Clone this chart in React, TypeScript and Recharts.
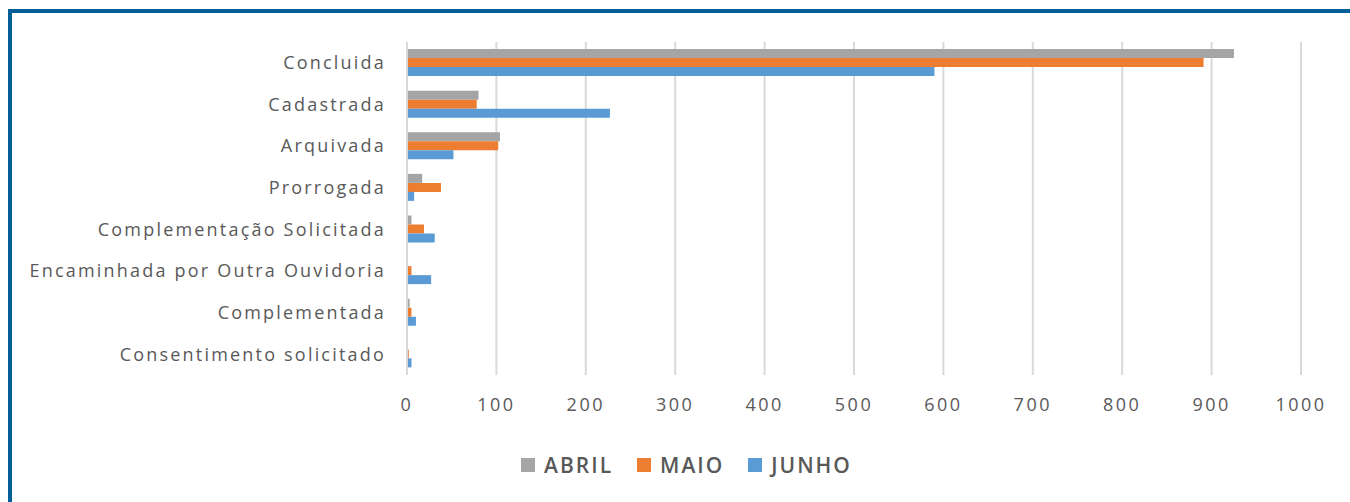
import React from 'react';
import { BarChart, Bar, XAxis, YAxis, CartesianGrid, Legend } from 'recharts';

// status categories, top to bottom
const categories = [
    'Concluida',
    'Cadastrada',
    'Arquivada',
    'Prorrogada',
    'Complementação Solicitada',
    'Encaminhada por Outra Ouvidoria',
    'Complementada',
    'Consentimento solicitado',
];

const abril = [925, 80, 104, 17, 5, 0, 3, 0];
const maio = [891, 78, 102, 38, 19, 5, 5, 2];
const junho = [590, 227, 52, 8, 31, 27, 10, 5];

const xTicks = [0, 100, 200, 300, 400, 500, 600, 700, 800, 900, 1000];

const series = [
    { key: 'abril', name: 'ABRIL', color: '#a5a5a5' },
    { key: 'maio', name: 'MAIO', color: '#ed7d31' },
    { key: 'junho', name: 'JUNHO', color: '#5b9bd5' },
];

const data = categories.map((name, i) => ({
    name,
    abril: abril[i],
    maio: maio[i],
    junho: junho[i],
}));

const FONT = '"Open Sans", "DejaVu Sans", sans-serif';

const LegendContent = () => (
    <div style={{ display: 'flex', justifyContent: 'center', alignItems: 'center', gap: 24, fontFamily: FONT, paddingLeft: 72 }}>
        {series.map(s => (
            <div key={s.key} style={{ display: 'flex', alignItems: 'center' }}>
                <span style={{ width: 14, height: 14, background: s.color, display: 'inline-block', marginRight: 9 }} />
                <span style={{ fontSize: 21, fontWeight: 600, color: '#595959', letterSpacing: 2 }}>{s.name}</span>
            </div>
        ))}
    </div>
);

export default function App() {
    return (
        <div style={{ position: 'absolute', left: 0, top: 0, width: 1350, height: 502, background: '#fff', overflow: 'hidden' }}>
            {/* blue frame, only top and left edges show */}
            <div style={{ position: 'absolute', left: 8, top: 9, width: 1400, height: 600, borderLeft: '4px solid #005f97', borderTop: '4px solid #005f97' }} />
            <div style={{ position: 'absolute', left: 0, top: 0 }}>
                <BarChart
                    width={1350}
                    height={502}
                    data={data}
                    layout="vertical"
                    margin={{ top: 42, right: 49, left: 0, bottom: 21 }}
                    barGap={0}
                    barSize={9}
                >
                    <CartesianGrid horizontal={false} stroke="#d9d9d9" strokeWidth={2} />
                    <XAxis
                        type="number"
                        domain={[0, 1000]}
                        ticks={xTicks}
                        axisLine={false}
                        tickLine={false}
                        tickSize={0}
                        tickMargin={23}
                        height={76}
                        tick={{ fill: '#595959', fontSize: 18, fontFamily: FONT, letterSpacing: 2.5 }}
                    />
                    <YAxis
                        type="category"
                        dataKey="name"
                        width={407}
                        axisLine={{ stroke: '#d9d9d9', strokeWidth: 2 }}
                        tickLine={false}
                        tickSize={0}
                        tickMargin={21}
                        interval={0}
                        tick={{ fill: '#595959', fontSize: 18, fontFamily: FONT, letterSpacing: 2.2 }}
                    />
                    <Legend verticalAlign="bottom" height={30} content={<LegendContent />} />
                    {series.map(s => (
                        <Bar key={s.key} dataKey={s.key} name={s.name} fill={s.color} isAnimationActive={false} />
                    ))}
                </BarChart>
            </div>
        </div>
    );
}
